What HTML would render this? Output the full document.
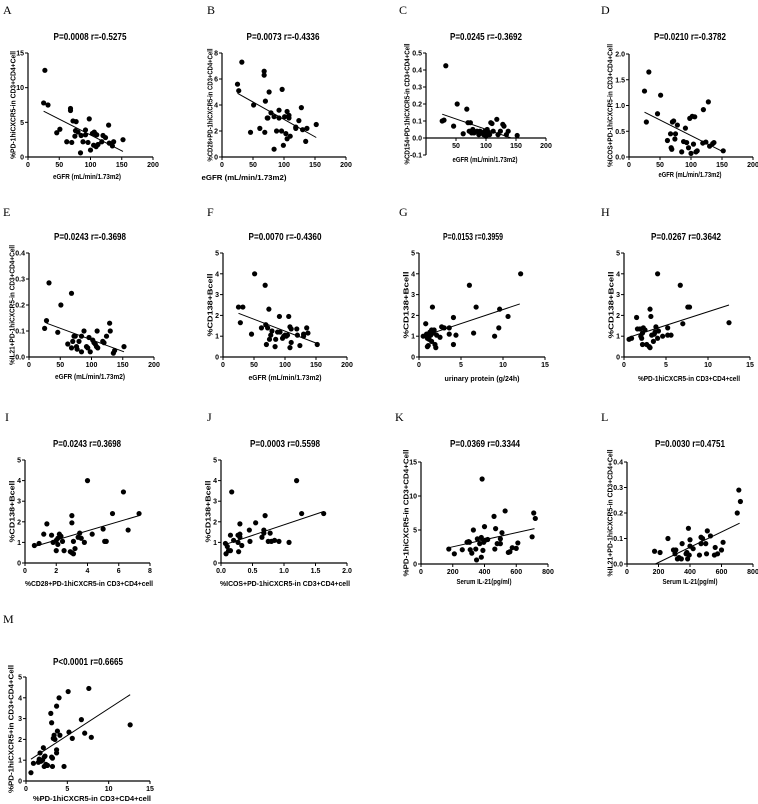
<!DOCTYPE html>
<html><head><meta charset="utf-8"><style>
html,body{margin:0;padding:0;background:#fff;}
svg{display:block;}
text{font-family:"Liberation Sans",sans-serif;fill:#000;}
.t{font-weight:bold;font-size:10px;}
.lb{font-weight:bold;font-size:7.5px;}
.tk{font-weight:bold;font-size:7px;}
.let{font-family:"Liberation Serif",serif;font-size:12px;}
</style></head><body>
<svg id="fig" width="758" height="804" viewBox="0 0 758 804" xmlns="http://www.w3.org/2000/svg"></svg>
<script>
const aX=[27,25,32,46,51,62,68,68,70,72,76,75,77,80,84,85,88,92,92,96,98,100,103,105,106,108,109,110,112,118,120,124,129,130,135,137,152];
const aY=[12.5,7.8,7.5,3.5,4,2.2,7,6.7,2.1,5.2,3.8,3.0,5.1,3.6,0.6,3.1,2.2,3.9,3.2,2.1,5.5,1.0,3.4,1.7,3.6,3.3,1.5,3.2,1.8,2.2,3.1,2.8,4.6,2.0,1.6,2.2,2.5];
const aFitX=[25,152], aFitY=[6.6,0.8];
const bX=[25,27,32,46,51,61,68,68,69,70,73,74,76,79,84,84,88,92,92,96,97,99,101,103,105,105,108,108,110,119,119,124,128,130,135,137,152];
const bY=[5.6,5.1,7.3,1.9,4,2.2,6.6,6.3,1.9,4.3,3,3.0,5,3.4,3.1,0.6,2,3,3.6,2,5.2,0.9,3.1,1.8,3.5,1.4,3,3.2,1.6,2.3,2.2,2.8,3.8,2.1,1.2,2.2,2.5];
const bFitX=[25,152], bFitY=[4.9,1.5];
const cX=[27,30,33,46,52,62,68,70,72,74,76,78,80,85,88,90,93,96,98,100,102,104,106,108,110,112,118,120,124,128,130,134,137,152];
const cY=[0.10,0.105,0.425,0.07,0.2,0.025,0.17,0.09,0.04,0.09,0.03,0.05,0.03,0.04,0.02,0.04,0.03,0.02,0.04,0.01,0.05,0.03,0.02,0.09,0.085,0.04,0.11,0.02,0.04,0.08,0.07,0.02,0.04,0.015];
const cFitX=[27,142], cFitY=[0.14,0.0];
const dX=[25,28,32,46,51,62,67,68,69,70,72,74,75,78,85,88,91,93,96,98,100,102,104,106,108,110,120,119,124,128,130,135,137,152];
const dY=[1.28,0.68,1.65,0.84,1.2,0.32,0.45,0.18,0.15,0.68,0.7,0.35,0.45,0.62,0.1,0.3,0.56,0.28,0.18,0.75,0.07,0.79,0.25,0.78,0.1,0.12,0.92,0.27,0.29,1.07,0.21,0.26,0.28,0.12];
const dFitX=[25,152], dFitY=[0.87,0.1];
const eX=[25,28,32,46,51,62,68,68,70,72,74,76,77,80,84,84,88,92,94,96,98,102,104,106,108,109,110,118,120,124,129,130,135,137,152];
const eY=[0.11,0.14,0.285,0.095,0.2,0.05,0.245,0.035,0.06,0.08,0.08,0.04,0.03,0.06,0.08,0.02,0.10,0.04,0.035,0.075,0.02,0.065,0.055,0.05,0.04,0.10,0.035,0.06,0.055,0.08,0.13,0.10,0.015,0.025,0.04];
const eFitX=[28,152], eFitY=[0.13,0.02];
const fX=[25,28,32,46,51,62,68,69,70,72,74,75,77,79,84,85,88,91,92,96,98,100,102,104,106,108,108,110,110,119,120,124,130,130,135,137,152];
const fY=[2.4,1.65,2.4,1.1,4.0,1.4,3.45,1.55,0.6,1.4,2.3,0.85,1.05,1.25,0.5,0.85,1.2,1.95,1.2,0.9,1.0,1.05,1.0,1.05,1.95,1.45,0.45,1.35,0.7,1.35,1.05,0.55,1.1,1.0,1.4,1.15,0.6];
const fFitX=[25,152], fFitY=[2.1,0.65];
const gX=[0.5,0.8,0.9,1.0,1.0,1.1,1.2,1.3,1.4,1.5,1.5,1.6,1.7,1.8,1.9,2.0,2.1,2.5,2.7,3.0,3.6,3.6,4.1,4.1,4.4,6.0,6.5,6.8,9.0,9.5,9.6,10.6,12.1];
const gY=[1.0,1.6,1.1,0.9,0.5,0.55,0.85,1.2,1.05,1.3,0.75,2.4,1.15,1.3,0.6,0.45,1.05,0.95,1.45,1.4,1.4,1.1,1.9,0.6,1.05,3.45,1.15,2.4,1.0,1.4,2.3,1.95,4.0];
const gFitX=[0.5,12], gFitY=[1.0,2.55];
const hX=[0.6,0.9,1.5,1.6,1.9,2.0,2.1,2.2,2.2,2.3,2.5,2.7,3.0,3.1,3.1,3.2,3.3,3.5,3.6,3.7,3.8,4.0,4.0,4.1,4.6,5.2,5.2,5.6,6.7,7.0,7.6,7.8,12.5];
const hY=[0.85,0.9,1.9,1.35,1.35,1.0,0.9,1.15,0.6,1.4,1.3,0.6,0.5,0.45,2.3,1.95,1.05,0.75,1.1,1.2,1.45,0.9,4.0,1.25,1.0,1.4,1.05,1.05,3.45,1.6,2.4,2.4,1.65];
const hFitX=[0.6,12.5], hFitY=[0.95,2.5];
const iX=[0.6,0.9,1.2,1.4,1.7,1.8,2.0,2.0,2.1,2.1,2.2,2.3,2.4,2.5,2.9,3.0,3.0,3.0,3.1,3.1,3.2,3.4,3.5,3.6,3.8,4.0,4.3,5.0,5.1,5.2,5.6,6.3,6.6,7.3];
const iY=[0.85,0.95,1.4,1.9,1.35,1.0,1.1,0.6,1.2,0.9,1.4,1.3,1.05,0.6,0.55,2.3,1.95,0.5,0.45,1.05,0.7,1.25,1.45,1.2,1.0,4.0,1.4,1.65,1.05,1.05,2.4,3.45,1.6,2.4];
const iFitX=[0.6,7.3], iFitY=[0.8,2.3];
const jX=[0.07,0.08,0.1,0.12,0.15,0.15,0.17,0.2,0.27,0.27,0.28,0.3,0.3,0.3,0.33,0.45,0.46,0.55,0.65,0.68,0.68,0.7,0.75,0.78,0.8,0.85,0.92,1.08,1.2,1.28,1.63];
const jY=[0.95,0.45,0.8,0.6,1.35,0.6,3.45,1.1,1.35,1.0,0.55,1.9,1.25,1.4,0.85,1.6,1.05,1.95,1.25,1.6,1.45,2.3,1.05,1.45,1.05,1.1,1.05,1.0,4.0,2.4,2.4];
const jFitX=[0.07,1.63], jFitY=[0.9,2.5];
const kX=[175,210,260,290,300,305,310,320,330,345,350,355,370,380,380,385,390,395,400,405,420,460,465,470,480,500,500,510,530,550,560,575,600,610,700,710,720];
const kY=[2.2,1.5,2.1,3.2,3.3,3.2,2.1,1.6,5,2.2,0.6,3.7,3.0,1.0,3.9,12.5,2.0,3.2,5.5,3.5,3.6,7.0,2.2,5.2,3.0,3.0,3.7,4.6,7.8,1.7,1.8,2.4,2.3,3.1,4.0,7.5,6.7];
const kFitX=[175,715], kFitY=[2.4,5.2];
const lX=[175,210,260,295,305,310,320,330,345,350,375,380,385,390,395,400,400,420,460,470,470,480,500,505,510,530,555,560,575,600,610,700,710,720];
const lY=[0.05,0.045,0.1,0.055,0.04,0.055,0.02,0.025,0.02,0.08,0.04,0.045,0.02,0.14,0.035,0.095,0.07,0.06,0.035,0.105,0.08,0.1,0.08,0.04,0.13,0.11,0.035,0.065,0.04,0.055,0.085,0.2,0.29,0.245];
const lFitX=[180,715], lFitY=[0.0,0.16];
const mX=[0.6,0.9,1.5,1.6,1.7,1.8,2.0,2.1,2.2,2.2,2.3,2.4,2.5,2.6,3.0,3.1,3.1,3.2,3.2,3.3,3.4,3.5,3.7,3.7,3.7,3.8,4.0,4.1,4.6,5.1,5.2,5.6,6.7,7.1,7.6,7.9,12.6];
const mY=[0.4,0.85,0.9,1.05,1.35,0.95,1.0,1.6,0.7,1.15,1.2,0.8,0.75,0.75,3.25,2.8,1.15,1.1,0.7,2.05,2.2,2.0,3.6,1.5,1.35,2.4,4.0,2.2,0.7,4.3,2.35,2.05,2.95,2.3,4.45,2.1,2.7];
const mFitX=[0.6,12.6], mFitY=[1.05,4.15];

const egfrT=[0,50,100,150,200], egfrL=['0','50','100','150','200'];
const t15=[0,5,10,15], t15L=['0','5','10','15'];
const t5=[0,1,2,3,4,5], t5L=['0','1','2','3','4','5'];
const t04=[0,0.1,0.2,0.3,0.4], t04L=['0.0','0.1','0.2','0.3','0.4'];

const NS='http://www.w3.org/2000/svg';
const svg=document.getElementById('fig');
function mk(tag,parent,attrs){const e=document.createElementNS(NS,tag);for(const k in attrs)e.setAttribute(k,attrs[k]);parent.appendChild(e);return e;}

function panel(p){
  const g=mk('g',svg,{});
  
  
  const sx=v=>p.x0+(v-p.xr[0])/(p.xr[1]-p.xr[0])*(p.x1-p.x0);
  const sy=v=>p.yb-(v-p.yr[0])/(p.yr[1]-p.yr[0])*(p.yb-p.yt);
  const xAxisY=p.xAt!==undefined?sy(p.xAt):p.yb;
  const let_=mk('text',g,{x:p.lx,y:p.ly,class:'let'});let_.textContent=p.id.toUpperCase();
  
  
  const tt=mk('text',g,{x:p.tx,y:p.ty,class:'t','text-anchor':'middle',textLength:p.tw,lengthAdjust:'spacingAndGlyphs'});tt.textContent=p.title;
  
  
  const ya=mk('line',g,{x1:p.x0,x2:p.x0,y1:p.yt,y2:p.yb,stroke:'#000','stroke-width':1.2});
  
  
  const xa=mk('line',g,{x1:p.x0,x2:p.x1,y1:xAxisY,y2:xAxisY,stroke:'#000','stroke-width':1.2});
  
  
  p.yT.forEach((v,i)=>{const y=sy(v);mk('line',g,{x1:p.x0-3,x2:p.x0,y1:y,y2:y,stroke:'#000','stroke-width':1});
    const t=mk('text',g,{x:p.x0-4,y:y+2.5,class:'tk','text-anchor':'end'});t.textContent=p.yL[i];
    
    });
  p.xT.forEach((v,i)=>{const x=sx(v);mk('line',g,{x1:x,x2:x,y1:xAxisY,y2:xAxisY+3,stroke:'#000','stroke-width':1});
    if(p.xL[i]==='')return;
    const t=mk('text',g,{x:x,y:xAxisY+10,class:'tk','text-anchor':'middle'});t.textContent=p.xL[i];
    
    });
  const xl=mk('text',g,{x:p.xlx,y:p.xly,class:'lb','text-anchor':'middle',textLength:p.xlw,lengthAdjust:'spacingAndGlyphs'});xl.textContent=p.xlabel;
  
  
  const ycy=(p.yt+p.yb)/2;
  const yl=mk('text',g,{x:0,y:0,class:'lb','text-anchor':'middle',textLength:p.ylw,lengthAdjust:'spacingAndGlyphs',transform:'translate('+(p.ylx+2.5)+','+ycy+') rotate(-90)'});yl.textContent=p.ylabel;
  
  
  p.xs.forEach((v,i)=>{const c=mk('circle',g,{cx:sx(v),cy:sy(p.ys[i]),r:2.6,fill:'#000'});
    
    });
  const fl=mk('line',g,{x1:sx(p.fx[0]),y1:sy(p.fy[0]),x2:sx(p.fx[1]),y2:sy(p.fy[1]),stroke:'#000','stroke-width':1});
  
  
}
const EG='eGFR (mL/min/1.73m2)', B138='%CD138+Bcell', PD='%PD-1hiCXCR5-in CD3+CD4+cell';
panel({id:'a',lx:3,ly:14,x0:28,x1:153,yt:53,yb:157,xr:[0,200],yr:[0,15],xT:egfrT,xL:egfrL,yT:t15,yL:t15L,title:'P=0.0008 r=-0.5275',tx:90,ty:40,tw:73,xlabel:EG,xlx:87,xly:179,xlw:68,ylabel:'%PD-1hiCXCR5-in CD3+CD4+Cell',ylx:13,ylw:108,xs:aX,ys:aY,fx:aFitX,fy:aFitY});
panel({id:'b',lx:207,ly:14,x0:222,x1:346,yt:53,yb:157,xr:[0,200],yr:[0,8],xT:egfrT,xL:egfrL,yT:[0,2,4,6,8],yL:['0','2','4','6','8'],title:'P=0.0073 r=-0.4336',tx:283,ty:40,tw:73,xlabel:EG,xlx:244,xly:180,xlw:85,ylabel:'%CD28+PD-1hiCXCR5-in CD3+CD4+Cell',ylx:210,ylw:113,xs:bX,ys:bY,fx:bFitX,fy:bFitY});
panel({id:'c',lx:399,ly:14,x0:426,x1:546,yt:53,yb:155,xr:[0,200],yr:[-0.1,0.5],xAt:0,xT:egfrT,xL:['','50','100','150','200'],yT:[-0.1,0,0.1,0.2,0.3,0.4,0.5],yL:['-0.1','0.0','0.1','0.2','0.3','0.4','0.5'],title:'P=0.0245 r=-0.3692',tx:486,ty:40,tw:72,xlabel:EG,xlx:485,xly:162,xlw:65,ylabel:'%CD154+PD-1hiCXCR5-in CD3+CD4+Cell',ylx:407,ylw:121,xs:cX,ys:cY,fx:cFitX,fy:cFitY});
panel({id:'d',lx:601,ly:14,x0:629,x1:753,yt:54,yb:157,xr:[0,200],yr:[0,2],xT:egfrT,xL:egfrL,yT:[0,0.5,1,1.5,2],yL:['0.0','0.5','1.0','1.5','2.0'],title:'P=0.0210 r=-0.3782',tx:690,ty:40,tw:72,xlabel:EG,xlx:690,xly:177,xlw:63,ylabel:'%ICOS+PD-1hiCXCR5-in CD3+CD4+Cell',ylx:610,ylw:123,xs:dX,ys:dY,fx:dFitX,fy:dFitY});
panel({id:'e',lx:3,ly:216,x0:29,x1:154,yt:253,yb:357,xr:[0,200],yr:[0,0.4],xT:egfrT,xL:egfrL,yT:t04,yL:t04L,title:'P=0.0243 r=-0.3698',tx:90,ty:240,tw:72,xlabel:EG,xlx:90,xly:379,xlw:70,ylabel:'%IL21+PD-1hiCXCR5-in CD3+CD4+Cell',ylx:12,ylw:120,xs:eX,ys:eY,fx:eFitX,fy:eFitY});
panel({id:'f',lx:207,ly:216,x0:223,x1:347,yt:253,yb:357,xr:[0,200],yr:[0,5],xT:egfrT,xL:egfrL,yT:t5,yL:t5L,title:'P=0.0070 r=-0.4360',tx:285,ty:240,tw:73,xlabel:EG,xlx:285,xly:380,xlw:73,ylabel:B138,ylx:210,ylw:63,xs:fX,ys:fY,fx:fFitX,fy:fFitY});
panel({id:'g',lx:399,ly:216,x0:419,x1:545,yt:253,yb:357,xr:[0,15],yr:[0,5],xT:t15,xL:t15L,yT:t5,yL:t5L,title:'P=0.0153 r=0.3959',tx:473,ty:240,tw:60,xlabel:'urinary protein (g/24h)',xlx:482,xly:381,xlw:75,ylabel:B138,ylx:406,ylw:67,xs:gX,ys:gY,fx:gFitX,fy:gFitY});
panel({id:'h',lx:601,ly:216,x0:624,x1:750,yt:253,yb:357,xr:[0,15],yr:[0,5],xT:t15,xL:t15L,yT:t5,yL:t5L,title:'P=0.0267 r=0.3642',tx:686,ty:240,tw:70,xlabel:PD,xlx:689,xly:381,xlw:102,ylabel:B138,ylx:611,ylw:67,xs:hX,ys:hY,fx:hFitX,fy:hFitY});
panel({id:'i',lx:5,ly:421,x0:25,x1:150,yt:460,yb:563,xr:[0,8],yr:[0,5],xT:[0,2,4,6,8],xL:['0','2','4','6','8'],yT:t5,yL:t5L,title:'P=0.0243 r=0.3698',tx:87,ty:447,tw:68,xlabel:'%CD28+PD-1hiCXCR5-in CD3+CD4+cell',xlx:89,xly:586,xlw:128,ylabel:B138,ylx:12,ylw:62,xs:iX,ys:iY,fx:iFitX,fy:iFitY});
panel({id:'j',lx:207,ly:421,x0:221,x1:347,yt:460,yb:563,xr:[0,2],yr:[0,5],xT:[0,0.5,1,1.5,2],xL:['0.0','0.5','1.0','1.5','2.0'],yT:t5,yL:t5L,title:'P=0.0003 r=0.5598',tx:285,ty:447,tw:70,xlabel:'%ICOS+PD-1hiCXCR5-in CD3+CD4+cell',xlx:285,xly:586,xlw:130,ylabel:B138,ylx:208,ylw:62,xs:jX,ys:jY,fx:jFitX,fy:jFitY});
panel({id:'k',lx:395,ly:421,x0:421,x1:548,yt:462,yb:564,xr:[0,800],yr:[0,15],xT:[0,200,400,600,800],xL:['0','200','400','600','800'],yT:t15,yL:t15L,title:'P=0.0369 r=0.3344',tx:485,ty:447,tw:70,xlabel:'Serum IL-21(pg/ml)',xlx:484,xly:584,xlw:55,ylabel:'%PD-1hiCXCR5-in CD3+CD4+Cell',ylx:406,ylw:127,xs:kX,ys:kY,fx:kFitX,fy:kFitY});
panel({id:'l',lx:601,ly:421,x0:627,x1:753,yt:462,yb:564,xr:[0,800],yr:[0,0.4],xT:[0,200,400,600,800],xL:['0','200','400','600','800'],yT:t04,yL:t04L,title:'P=0.0030 r=0.4751',tx:690,ty:447,tw:70,xlabel:'Serum IL-21(pg/ml)',xlx:690,xly:584,xlw:55,ylabel:'%IL21+PD-1hiCXCR5-in CD3+CD4+Cell',ylx:610,ylw:127,xs:lX,ys:lY,fx:lFitX,fy:lFitY});
panel({id:'m',lx:3,ly:623,x0:26,x1:150,yt:677,yb:781,xr:[0,15],yr:[0,5],xT:t15,xL:t15L,yT:t5,yL:t5L,title:'P<0.0001 r=0.6665',tx:88,ty:665,tw:70,xlabel:PD,xlx:92,xly:801,xlw:118,ylabel:'%PD-1hiCXCR5+in CD3+CD4+Cell',ylx:11,ylw:128,xs:mX,ys:mY,fx:mFitX,fy:mFitY});
</script>
</body></html>
